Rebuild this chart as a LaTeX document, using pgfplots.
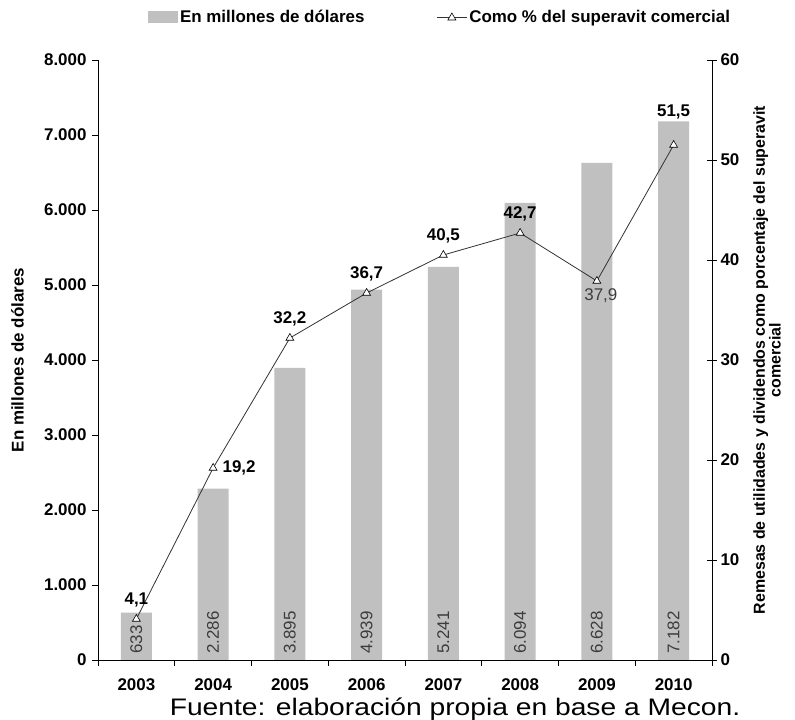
\documentclass[border=0pt]{standalone}
\usepackage{fontspec}
\setmainfont{Liberation Sans}
\newfontfamily\widefont[FakeStretch=1.18]{Liberation Sans}
\usepackage{pgfplots}
\pgfplotsset{compat=1.18}
\definecolor{bargray}{RGB}{192,192,192}
\definecolor{lbl}{RGB}{60,60,60}
\definecolor{linec}{RGB}{50,50,50}
\newcommand{\tfont}{\fontsize{17}{17}\selectfont\bfseries}
\begin{document}
\begin{tikzpicture}[x=1bp,y=1bp]
\path[use as bounding box] (0,0) rectangle (795,720);
\begin{axis}[
  at={(98bp,60bp)}, anchor=south west,
  scale only axis, width=614bp, height=600bp,
  xmin=-0.5, xmax=7.5, ymin=0, ymax=8000,
  axis y line*=left, axis x line*=bottom,
  axis line style={line width=0.9bp, -},
  xtick={0,...,7},
  xticklabels={2003,2004,2005,2006,2007,2008,2009,2010},
  minor xtick={-0.5,0.5,...,7.5},
  x tick style={draw=none},
  minor x tick style={draw=black, line width=0.9bp},
  minor tick length=6bp,
  ytick={0,1000,...,8000},
  yticklabels={0,1.000,2.000,3.000,4.000,5.000,6.000,7.000,8.000},
  y tick style={black, line width=0.9bp},
  major tick length=6bp,
  tick align=outside,
  xticklabel style={font=\tfont, yshift=-9bp},
  yticklabel style={font=\tfont, xshift=-2bp},
  ylabel={En millones de dólares},
  ylabel style={font=\tfont, at={(axis description cs:-0.131,0.5)}, anchor=center},
  legend columns=2,
  legend style={draw=none, fill=none, font=\tfont,
    at={(axis description cs:0.557,1.0717)}, anchor=center,
    /tikz/every even column/.append style={column sep=70bp}},
  clip=false,
]
\addplot[fill=bargray, draw=none, ybar, bar width=31bp,
  legend image code/.code={\fill[bargray] (0bp,-6bp) rectangle (30bp,6bp);}]
  coordinates {(0,633) (1,2286) (2,3895) (3,4939) (4,5241) (5,6094) (6,6628) (7,7182)};
\addlegendentry{En millones de dólares}
\addlegendimage{legend image code/.code={
  \draw[linec, line width=0.8bp] (0bp,0bp) -- (30bp,0bp);
  \draw[black, fill=white, line width=0.6bp] (15bp,4bp) -- (11bp,-3bp) -- (19bp,-3bp) -- cycle;}}
\addlegendentry{Como \% del superavit comercial}
\addplot[draw=none, mark=none, forget plot, nodes near coords, point meta=explicit symbolic,
  nodes near coords style={rotate=90, anchor=west, inner sep=0pt,
    font=\fontsize{17}{17}\selectfont, text=lbl}]
  table[meta=lab] {
x y lab
0 80 633
1 80 2.286
2 80 3.895
3 80 4.939
4 80 5.241
5 80 6.094
6 80 6.628
7 80 7.182
};
\end{axis}
\begin{axis}[
  at={(98bp,60bp)}, anchor=south west,
  scale only axis, width=614bp, height=600bp,
  xmin=-0.5, xmax=7.5, ymin=0, ymax=60,
  axis y line*=right, axis x line=none,
  axis line style={line width=0.9bp, -},
  ytick={0,10,...,60},
  yticklabels={0,10,20,30,40,50,60},
  y tick style={black, line width=0.9bp},
  major tick length=10bp,
  tick align=center,
  yticklabel style={font=\tfont},
  ylabel={Remesas de utilidades y dividendos como porcentaje del superavit\\comercial},
  ylabel style={font=\fontsize{16}{14}\selectfont\bfseries, align=center,
    at={(axis description cs:1.0896,0.5)}, anchor=center},
  clip=false,
]
\addplot[linec, line width=0.8bp, mark=triangle*, mark size=4.5bp,
  mark options={fill=white, draw=black, line width=0.6bp}]
  coordinates {(0,4.1) (1,19.2) (2,32.2) (3,36.7) (4,40.5) (5,42.7) (6,37.9) (7,51.5)};
\addplot[draw=none, mark=none, nodes near coords, point meta=explicit symbolic,
  nodes near coords style={anchor=south, yshift=8bp, font=\tfont, text=black}]
  table[meta=lab] {
x y lab
0 4.1 4,1
2 32.2 32,2
3 36.7 36,7
4 40.5 40,5
5 42.7 42,7
};
\addplot[draw=none, mark=none, nodes near coords, point meta=explicit symbolic,
  nodes near coords style={anchor=south, yshift=22bp, font=\tfont, text=black}]
  table[meta=lab] {
x y lab
7 51.5 51,5
};
\addplot[draw=none, mark=none, nodes near coords, point meta=explicit symbolic,
  nodes near coords style={anchor=west, xshift=6bp, yshift=0bp, font=\tfont, text=black}]
  table[meta=lab] {
x y lab
1 19.2 19,2
};
\addplot[draw=none, mark=none, nodes near coords, point meta=explicit symbolic,
  nodes near coords style={anchor=north, yshift=-4bp, xshift=4bp, font=\fontsize{17}{17}\selectfont, text=lbl}]
  table[meta=lab] {
x y lab
6 37.9 37,9
};
\end{axis}
\node[anchor=base, font=\fontsize{24}{24}\widefont] at (455bp,4bp) {Fuente: elaboración propia en base a Mecon.};
\end{tikzpicture}
\end{document}
